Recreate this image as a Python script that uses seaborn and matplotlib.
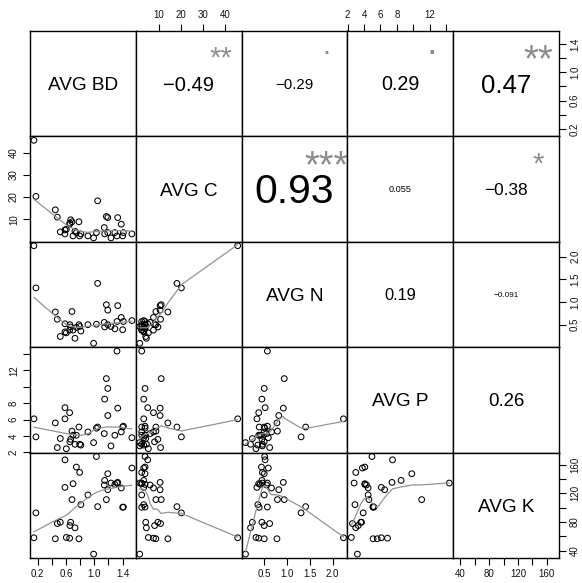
import numpy as np
import pandas as pd
import matplotlib
matplotlib.use("Agg")
import matplotlib.pyplot as plt
import matplotlib.transforms as mtransforms
from matplotlib.textpath import TextPath
from matplotlib.font_manager import FontProperties
import seaborn as sns

# ---- data (one entry per site) ----
variables = ["AVG BD", "AVG C", "AVG N", "AVG P", "AVG K"]

avg_bd = [0.586, 1.03, 0.747, 1.53, 0.793, 1.19, 1.146, 0.70, 0.586, 1.14,
          1.235, 1.32, 1.33, 1.19, 1.38, 1.29, 0.91, 0.685, 1.17, 0.81,
          1.047, 1.40, 1.41, 0.176, 0.52, 0.478, 0.666, 0.656, 0.727, 0.148,
          0.45, 0.605, 0.652, 0.783, 0.99]
avg_c = [5.1, 3.9, 3.9, 3.3, 2.4, 3.9, 3.3, 2.4, 3.3, 6.2,
         1.5, 2.4, 10.7, 10.7, 7.7, 3.9, 2.4, 8.8, 11.2, 3.3,
         18.3, 2.4, 3.9, 20.3, 4.2, 10.9, 9.7, 8.2, 4.5, 45.7,
         14.2, 5.4, 7.7, 8.8, 1.5]
avg_n = [0.52, 0.51, 0.44, 0.59, 0.46, 0.50, 0.45, 0.38, 0.34, 0.55,
         0.46, 0.57, 0.92, 0.82, 0.66, 0.41, 0.50, 0.79, 0.94, 0.36,
         1.41, 0.39, 0.57, 1.31, 0.24, 0.62, 0.45, 0.50, 0.20, 2.24,
         0.78, 0.32, 0.38, 0.50, 0.09]
avg_p = [7.46, 4.96, 4.1, 3.8, 3.0, 9.8, 8.5, 4.1, 6.1, 4.3,
         2.8, 14.35, 7.4, 6.5, 4.5, 4.1, 4.5, 4.6, 11.0, 2.9,
         5.1, 5.1, 5.2, 3.9, 3.7, 2.6, 3.6, 3.3, 3.0, 6.1,
         5.6, 2.46, 6.85, 5.1, 3.2]
avg_k = [166.9, 171.5, 156.8, 155.4, 149.3, 147.5, 138.2, 133.6, 128.4, 131.8,
         134.5, 134.5, 135.4, 125.2, 127.6, 132.6, 117.9, 111.4, 111.4, 104.4,
         101.6, 100.7, 101.0, 92.9, 79.8, 78.0, 79.8, 75.2, 72.1, 58.2,
         56.8, 58.6, 57.6, 56.8, 35.4]

# upper triangle, row by row
cor_text = ["\u22120.49", "\u22120.29", "0.29", "0.47",
            "0.93", "0.055", "\u22120.38",
            "0.19", "\u22120.091",
            "0.26"]
cor_value = [-0.49, -0.29, 0.29, 0.47, 0.93, 0.055, -0.38, 0.19, -0.091, 0.26]
cor_signif = ["**", ".", ".", "**", "***", "", "*", "", "", ""]

tick_values = [[0.2, 0.4, 0.6, 0.8, 1.0, 1.2, 1.4],
               [10, 20, 30, 40],
               [0.5, 1.0, 1.5, 2.0],
               [2, 4, 6, 8, 10, 12, 14],
               [40, 60, 80, 100, 120, 140, 160]]
tick_labels = [["0.2", "", "0.6", "", "1.0", "", "1.4"],
               ["10", "20", "30", "40"],
               ["0.5", "1.0", "1.5", "2.0"],
               ["2", "4", "6", "8", "", "12", ""],
               ["40", "", "80", "", "120", "", "160"]]

df = pd.DataFrame({"AVG BD": avg_bd, "AVG C": avg_c, "AVG N": avg_n,
                   "AVG P": avg_p, "AVG K": avg_k})

sns.set_style("white")
plt.rcParams["font.family"] = ["Liberation Sans", "DejaVu Sans"]
FONT = "Liberation Sans"


def lowess(x, y, f=2 / 3, iters=3):
    # plain port of R's lowess (no delta shortcut)
    order = np.argsort(x, kind="mergesort")
    x = np.asarray(x, float)[order]
    y = np.asarray(y, float)[order]
    n = len(x)
    ns = max(min(int(f * n + 1e-7), n), 2)
    rw = np.ones(n)
    fit = np.zeros(n)
    for it in range(iters + 1):
        for i in range(n):
            d = np.abs(x - x[i])
            h = np.sort(d)[ns - 1]
            w = np.zeros(n)
            if h > 0:
                u = d / h
                w = np.where(d <= 0.999 * h, (1 - np.clip(u, 0, 1) ** 3) ** 3, 0.0)
                w[d <= 0.001 * h] = 1.0
            else:
                w[d == 0] = 1.0
            w = w * rw
            sw = w.sum()
            if sw <= 0:
                fit[i] = y[i]
                continue
            xm = (w * x).sum() / sw
            ym = (w * y).sum() / sw
            vx = (w * (x - xm) ** 2).sum()
            if np.sqrt(vx) > 0.001 * (x[-1] - x[0]):
                b = (w * (x - xm) * (y - ym)).sum() / vx
                fit[i] = ym + b * (x[i] - xm)
            else:
                fit[i] = ym
        if it == iters:
            break
        res = y - fit
        s = 6 * np.median(np.abs(res))
        if s < 1e-7 * np.mean(np.abs(y)):
            break
        u = np.abs(res) / s
        rw = np.where(u < 0.999, (1 - np.clip(u, 0, 1) ** 2) ** 2, 0.0)
        rw[u <= 0.001] = 1.0
    return x, fit


def lower_panel(x, y, **kws):
    ax = plt.gca()
    sns.scatterplot(x=x, y=y, ax=ax, marker="o", s=17, facecolor="none",
                    edgecolor="black", linewidth=0.75)
    lx, ly = lowess(x.values, y.values)
    ax.plot(lx, ly, color="#939393", lw=0.9)


def centered_text(ax, x, y, s, size, color="black"):
    # centre the ink of the string on (x, y) in axes coords, like R's text()
    fp = FontProperties(family=FONT, size=size)
    ext = TextPath((0, 0), s, size=size, prop=fp).get_extents()
    tr = mtransforms.offset_copy(ax.transAxes, fig=ax.figure,
                                 x=-(ext.x0 + ext.x1) / 2, y=-(ext.y0 + ext.y1) / 2,
                                 units="points")
    ax.text(x, y, s, transform=tr, ha="left", va="baseline",
            fontsize=size, family=FONT, color=color)


g = sns.PairGrid(df, vars=variables, height=1.164, despine=False)
g.map_lower(lower_panel)
g.figure.set_size_inches(5.82, 5.83)
g.figure.subplots_adjust(left=30 / 582, right=559 / 582, bottom=1 - 558 / 583,
                         top=1 - 31 / 583, wspace=0, hspace=0)

panel_pt = (559 - 30) / 5 / 100 * 72
nv = len(variables)

for i in range(nv):
    for j in range(nv):
        ax = g.axes[i, j]
        ax.set_xlabel("")
        ax.set_ylabel("")
        for sp in ax.spines.values():
            sp.set_visible(True)
            sp.set_color("black")
            sp.set_linewidth(1.0)
        ax.tick_params(bottom=False, top=False, left=False, right=False,
                       labelbottom=False, labeltop=False,
                       labelleft=False, labelright=False)

# limits and ticks per variable (R style 4% padding)
for k, v in enumerate(variables):
    lo, hi = min(df[v]), max(df[v])
    pad = 0.04 * (hi - lo)
    g.axes[0, k].set_xlim(lo - pad, hi + pad)
    g.axes[k, 0].set_ylim(lo - pad, hi + pad)
    g.axes[0, k].set_xticks(tick_values[k], tick_labels[k])
    g.axes[k, 0].set_yticks(tick_values[k], tick_labels[k])

tick_kw = dict(direction="out", length=5, width=0.8, color="black",
               labelsize=7, pad=3, labelcolor="#111111")
for k in range(nv):
    if k % 2 == 0:
        g.axes[nv - 1, k].tick_params(axis="x", bottom=True, labelbottom=True, **tick_kw)
        g.axes[k, nv - 1].tick_params(axis="y", right=True, labelright=True, **tick_kw)
        for lab in g.axes[k, nv - 1].get_yticklabels():
            lab.set_rotation(90)
            lab.set_va("center")
    else:
        g.axes[0, k].tick_params(axis="x", top=True, labeltop=True, **tick_kw)
        g.axes[k, 0].tick_params(axis="y", left=True, labelleft=True, **tick_kw)
        for lab in g.axes[k, 0].get_yticklabels():
            lab.set_rotation(90)
            lab.set_va("center")

# diagonal: variable names
for k, v in enumerate(variables):
    centered_text(g.axes[k, k], 0.5, 0.5, v, 13.7)

# upper triangle: correlation and significance stars
n = 0
for i in range(nv):
    for j in range(i + 1, nv):
        ax = g.axes[i, j]
        txt = cor_text[n]
        fp = FontProperties(family=FONT, size=1)
        w1 = TextPath((0, 0), txt, size=1, prop=fp).get_extents().width * 1.05
        cex = 0.8 * panel_pt / w1
        centered_text(ax, 0.5, 0.5, txt, cex * (abs(cor_value[n]) + 0.3) / 1.3)
        if cor_signif[n]:
            centered_text(ax, 0.8, 0.8, cor_signif[n], cex * 0.88, color="#8c8c8c")
        n += 1

g.figure.savefig("out.png", dpi=100)
